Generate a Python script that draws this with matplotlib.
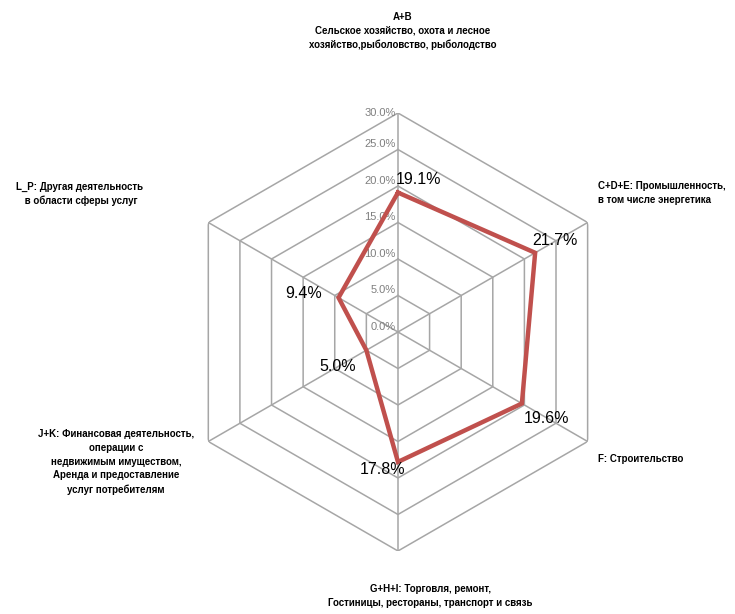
import numpy as np
import matplotlib.pyplot as plt

# sector shares, clockwise from the top
sectors = ['A+B\nСельское хозяйство, охота и лесное\nхозяйство,рыболовство, рыболодство',
           'C+D+E: Промышленность,\nв том числе энергетика',
           'F: Строительство',
           'G+H+I: Торговля, ремонт,\nГостиницы, рестораны, транспорт и связь',
           'J+K: Финансовая деятельность,\nоперации с\nнедвижимым имуществом,\nАренда и предоставление\nуслуг потребителям',
           'L_P: Другая деятельность\n в области сферы услуг']
shares = [19.1, 21.7, 19.6, 17.8, 5.0, 9.4]
rings = [0, 5, 10, 15, 20, 25, 30]

font = ['Liberation Sans', 'DejaVu Sans']

fig = plt.figure(figsize=(7.35, 6.14), dpi=100)
ax = fig.add_axes([0.2435, 0.1026, 0.5959, 0.7134], projection='polar')
ax.set_theta_zero_location('N')
ax.set_theta_direction(-1)
ax.set_ylim(0, 30)
ax.grid(False)
ax.spines['polar'].set_visible(False)
ax.set_xticks([])
ax.set_yticks([])
ax.patch.set_alpha(0)

n = len(shares)
theta = np.arange(n) * 2 * np.pi / n
theta_c = np.append(theta, theta[0])

# hexagonal grid and spokes
grid_col = '#a6a6a6'
for r in rings[1:]:
    ax.plot(theta_c, [r] * (n + 1), color=grid_col, lw=1.1, zorder=1)
for t in theta:
    ax.plot([t, t], [0, 30], color=grid_col, lw=1.1, zorder=1)

# axis value labels on the vertical spoke
for r in rings:
    ax.annotate('%.1f%%' % r, (0, r), xytext=(-2, 5 if r < 30 else 0),
                textcoords='offset pixels', ha='right', va='center',
                fontsize=8, color='#7f7f7f', family=font)

# data polygon
vals_c = np.append(shares, shares[0])
ax.plot(theta_c, vals_c, color='#c0504d', lw=3.2, zorder=3, solid_joinstyle='miter')

label_offsets = [(21, 13), (20, 12), (25, -15), (-15, -8), (-29, -16), (-35, 4)]
for t, v, off in zip(theta, shares, label_offsets):
    ax.annotate('%.1f%%' % v, (t, v), xytext=off, textcoords='offset pixels',
                ha='center', va='center', fontsize=11.5, color='black', family=font)

# category names
W, H = 735, 614
cat_pos = [(403, 31, 'center'), (598, 193, 'left'), (598, 459, 'left'),
           (430, 596, 'center'), (116, 462, 'center'), (80, 194, 'center')]
for txt, (x, y, ha) in zip(sectors, cat_pos):
    fig.text(x / W, 1 - y / H, txt, ha=ha, va='center', multialignment=ha,
             fontsize=7, fontweight='bold', family=font, linespacing=1.45)

fig.savefig('out.png', dpi=100, facecolor='white')
